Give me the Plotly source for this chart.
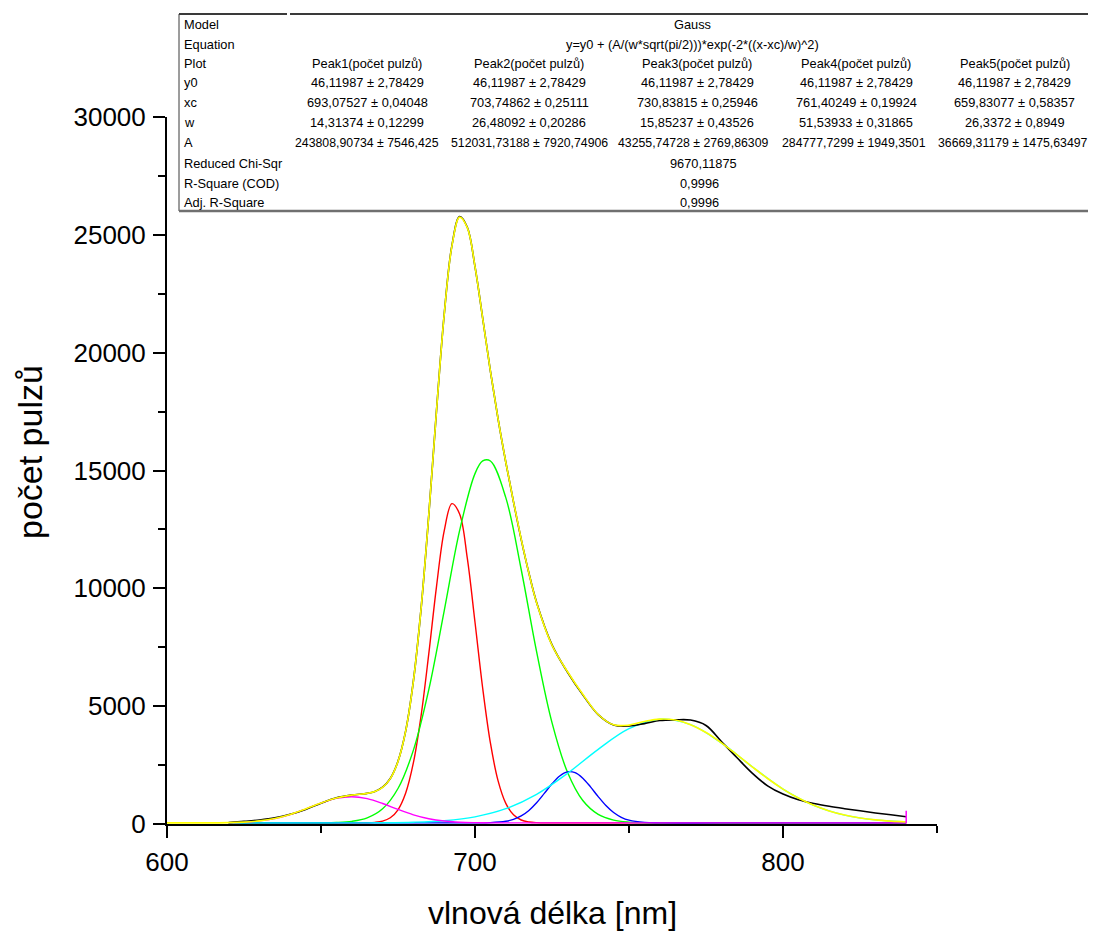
import plotly.graph_objects as go

# ---------------- data ----------------
x_fit = [600, 610, 620, 625, 630, 635, 640, 645, 650, 655, 660, 665, 667.5, 670, 672.5, 675, 677.5,
         680, 682.5, 685, 687.5, 690, 692.5, 695, 697.5, 700, 702.5, 705, 707.5, 710, 712.5, 715,
         717.5, 720, 725, 730, 735, 740, 745, 750, 755, 760, 765, 770, 775, 780, 785, 790, 795,
         800, 805, 810, 815, 820, 825, 830, 835, 840]
y_fit = [46, 47, 57, 80, 131, 234, 404, 636, 891, 1103, 1225, 1298, 1375, 1553, 1924, 2653, 3951,
         6064, 9150, 13123, 17535, 21612, 24522, 25750, 25303, 23653, 21453, 19214, 17176, 15351,
         13668, 12090, 10645, 9389, 7586, 6471, 5503, 4648, 4208, 4196, 4351, 4452, 4412, 4216,
         3882, 3444, 2945, 2428, 1930, 1482, 1100, 791, 553, 378, 256, 173, 121, 88]

x_data = [620, 625, 630, 635, 640, 645, 650, 655, 660, 665, 667.5, 670, 672.5, 675, 677.5, 680,
          682.5, 685, 687.5, 690, 692.5, 695, 697.5, 700, 702.5, 705, 707.5, 710, 712.5, 715,
          717.5, 720, 725, 730, 735, 740, 745, 750, 755, 760, 765, 770, 775, 780, 785, 790, 795,
          800, 805, 810, 815, 820, 825, 830, 835, 840]
y_data = [60, 110, 170, 260, 410, 620, 880, 1110, 1230, 1300, 1380, 1560, 1930, 2660, 3950, 6070,
          9150, 13120, 17540, 21620, 24540, 25780, 25320, 23650, 21460, 19220, 17180, 15350, 13670,
          12080, 10650, 9400, 7600, 6450, 5480, 4640, 4200, 4160, 4260, 4390, 4420, 4410, 4180,
          3500, 2820, 2160, 1620, 1270, 1030, 870, 750, 650, 560, 470, 390, 310]

x_peak1 = [620, 640, 660, 665, 667.5, 670, 672.5, 675, 677.5, 680, 682.5, 685, 687.5, 690, 692.5,
           695, 697.5, 700, 702.5, 705, 707.5, 710, 712.5, 715, 717.5, 720, 725, 740, 780, 840]
y_peak1 = [46, 46, 46, 52, 69, 121, 263, 604, 1316, 2600, 4601, 7231, 10076, 12438, 13594, 13158,
           11278, 8561, 5761, 3439, 1829, 876, 388, 170, 86, 57, 47, 46, 46, 46]

x_peak2 = [620, 625, 630, 635, 640, 645, 650, 655, 660, 665, 670, 675, 680, 685, 690, 695, 700,
           702.5, 705, 710, 715, 720, 725, 730, 735, 740, 745, 750, 755, 760, 800, 840]
y_peak2 = [46, 46, 46, 46, 46, 47, 50, 64, 112, 259, 645, 1507, 3134, 5705, 9044, 12447, 14868,
           15405, 15405, 13848, 10799, 7311, 4301, 2207, 997, 409, 166, 81, 55, 48, 46, 46]

x_peak3 = [620, 680, 700, 705, 710, 712.5, 715, 717.5, 720, 722.5, 725, 727.5, 730, 732.5, 735,
           737.5, 740, 742.5, 745, 747.5, 750, 755, 760, 780, 840]
y_peak3 = [46, 46, 47, 57, 115, 196, 341, 574, 900, 1297, 1705, 2038, 2211, 2176, 1943, 1575, 1162,
           784, 487, 285, 163, 67, 48, 46, 46]

x_peak4 = [620, 630, 640, 650, 660, 670, 680, 690, 700, 710, 720, 730, 740, 750, 760, 770, 780,
           790, 800, 810, 820, 830, 840]
y_peak4 = [46, 46, 46, 46, 48, 54, 76, 141, 304, 649, 1259, 2145, 3169, 4044, 4448, 4216, 3444,
           2428, 1482, 791, 378, 173, 88]

x_peak5 = [620, 625, 630, 635, 640, 645, 650, 655, 660, 665, 670, 675, 680, 685, 690, 695, 700,
           705, 710, 740, 800, 840]
y_peak5 = [57, 80, 131, 234, 404, 635, 887, 1085, 1157, 1075, 871, 618, 390, 225, 127, 77, 57, 49,
           47, 46, 46, 46]

end_marker_x = [840]
end_marker_y = [300]

# ---------------- table text ----------------
row_labels = ["Model", "Equation", "Plot", "y0", "xc", "w", "A",
              "Reduced Chi-Sqr", "R-Square (COD)", "Adj. R-Square"]
model_name = "Gauss"
equation = "y=y0 + (A/(w*sqrt(pi/2)))*exp(-2*((x-xc)/w)^2)"
plot_names = ["Peak1(počet pulzů)", "Peak2(počet pulzů)", "Peak3(počet pulzů)",
              "Peak4(počet pulzů)", "Peak5(počet pulzů)"]
y0_vals = ["46,11987 ± 2,78429"] * 5
xc_vals = ["693,07527 ± 0,04048", "703,74862 ± 0,25111", "730,83815 ± 0,25946",
           "761,40249 ± 0,19924", "659,83077 ± 0,58357"]
w_vals = ["14,31374 ± 0,12299", "26,48092 ± 0,20286", "15,85237 ± 0,43526",
          "51,53933 ± 0,31865", "26,3372 ± 0,8949"]
A_vals = ["243808,90734 ± 7546,425", "512031,73188 ± 7920,74906", "43255,74728 ± 2769,86309",
          "284777,7299 ± 1949,3501", "36669,31179 ± 1475,63497"]
chi_val = "9670,11875"
r2_val = "0,9996"
adj_r2_val = "0,9996"

x_title = "vlnová délka [nm]"
y_title = "počet pulzů"

# ---------------- layout helpers (window pixels; page body has an 8px margin) ----------------
OFF = 8
W, H = 1096 - OFF, 933 - OFF
ML, MR, MT, MB = 159, 159, 109, 109
PW = W - ML - MR
PH = H - MT - MB


def px(x):
    return (x - OFF - ML) / PW


def py(y):
    return (H - MB + OFF - y) / PH


FONT = "Liberation Sans, Arial, sans-serif"

fig = go.Figure()

for xs, ys, col in [(x_peak1, y_peak1, "#FF0000"), (x_peak2, y_peak2, "#00FF00"),
                    (x_peak3, y_peak3, "#0000FF"), (x_peak4, y_peak4, "#00FFFF"),
                    (x_peak5, y_peak5, "#FF00FF")]:
    fig.add_trace(go.Scatter(x=xs, y=ys, mode="lines",
                             line=dict(color=col, width=1.4, shape="spline"), showlegend=False))
fig.add_trace(go.Scatter(x=x_data, y=y_data, mode="lines",
                         line=dict(color="#000000", width=1.6, shape="spline"), showlegend=False))
fig.add_trace(go.Scatter(x=x_fit, y=y_fit, mode="lines",
                         line=dict(color="#FFFF00", width=1.6, shape="spline"), showlegend=False))
fig.add_trace(go.Scatter(x=end_marker_x, y=end_marker_y, mode="markers",
                         marker=dict(symbol="line-ns", size=9, line=dict(color="#FF00FF", width=1.5)),
                         showlegend=False, cliponaxis=False))

axis_common = dict(showline=True, linecolor="black", linewidth=2, ticks="outside", ticklen=12,
                   tickwidth=2, tickcolor="black", showgrid=False, zeroline=False,
                   tickfont=dict(family=FONT, size=26, color="black"), tickformat="d",
                   ticklabelstandoff=2)

fig.update_layout(
    width=W, height=H,
    margin=dict(l=ML, r=MR, t=MT, b=MB),
    paper_bgcolor="white", plot_bgcolor="white",
    xaxis=dict(range=[600, 850], dtick=100, tick0=600,
               minor=dict(ticks="outside", ticklen=7, tickwidth=2, tickcolor="black", dtick=50),
               **axis_common),
    yaxis=dict(range=[0, 30000], dtick=5000, tick0=0,
               minor=dict(ticks="outside", ticklen=7, tickwidth=2, tickcolor="black", dtick=2500),
               **axis_common),
)

# ---------------- table box ----------------
shapes = [
    dict(type="rect", xref="paper", yref="paper", x0=px(179), x1=px(1100), y0=py(211), y1=py(14),
         fillcolor="white", line=dict(width=0), layer="above"),
    dict(type="line", xref="paper", yref="paper", x0=px(179), x1=px(287), y0=py(14), y1=py(14),
         line=dict(color="#3a3a3a", width=2), layer="above"),
    dict(type="line", xref="paper", yref="paper", x0=px(290), x1=px(1100), y0=py(14), y1=py(14),
         line=dict(color="#3a3a3a", width=2), layer="above"),
    dict(type="line", xref="paper", yref="paper", x0=px(179), x1=px(179), y0=py(211), y1=py(14),
         line=dict(color="#3a3a3a", width=1), layer="above"),
    dict(type="line", xref="paper", yref="paper", x0=px(179), x1=px(1100), y0=py(211), y1=py(211),
         line=dict(color="#707070", width=2.5), layer="above"),
]
fig.update_layout(shapes=shapes)

row_y = [24.5, 44.3, 63.5, 83, 102.7, 122.7, 142.7, 163, 183, 202.7]
col_x = [367, 529, 697, 856, 1015]
ann = []


def cell(text, x, y, anchor="center", size=12.8):
    ann.append(dict(text=text, x=px(x), y=py(y), xref="paper", yref="paper", showarrow=False,
                    xanchor=anchor, yanchor="middle",
                    font=dict(family=FONT, size=size, color="black")))


for lab, ry in zip(row_labels, row_y):
    cell(lab, 182, ry, "left")
cell(model_name, 692.5, row_y[0])
cell(equation, 692.5, row_y[1])
for vals, ry in [(plot_names, row_y[2]), (y0_vals, row_y[3]), (xc_vals, row_y[4]),
                 (w_vals, row_y[5])]:
    for v, cx in zip(vals, col_x):
        cell(v, cx, ry)
for v, cx in zip(A_vals, [367, 529, 693, 854, 1013]):
    cell(v, cx, row_y[6], size=12.3)
cell(chi_val, 703, row_y[7])
cell(r2_val, 699, row_y[8])
cell(adj_r2_val, 699, row_y[9])

# axis titles
ann.append(dict(text=x_title, x=px(552), y=py(913), xref="paper", yref="paper", showarrow=False,
                xanchor="center", yanchor="middle", font=dict(family=FONT, size=32, color="black")))
ann.append(dict(text=y_title, x=px(30), y=py(452), xref="paper", yref="paper", showarrow=False,
                xanchor="center", yanchor="middle", textangle=-90,
                font=dict(family=FONT, size=34, color="black")))
fig.update_layout(annotations=ann)

fig.write_html("out.html")
